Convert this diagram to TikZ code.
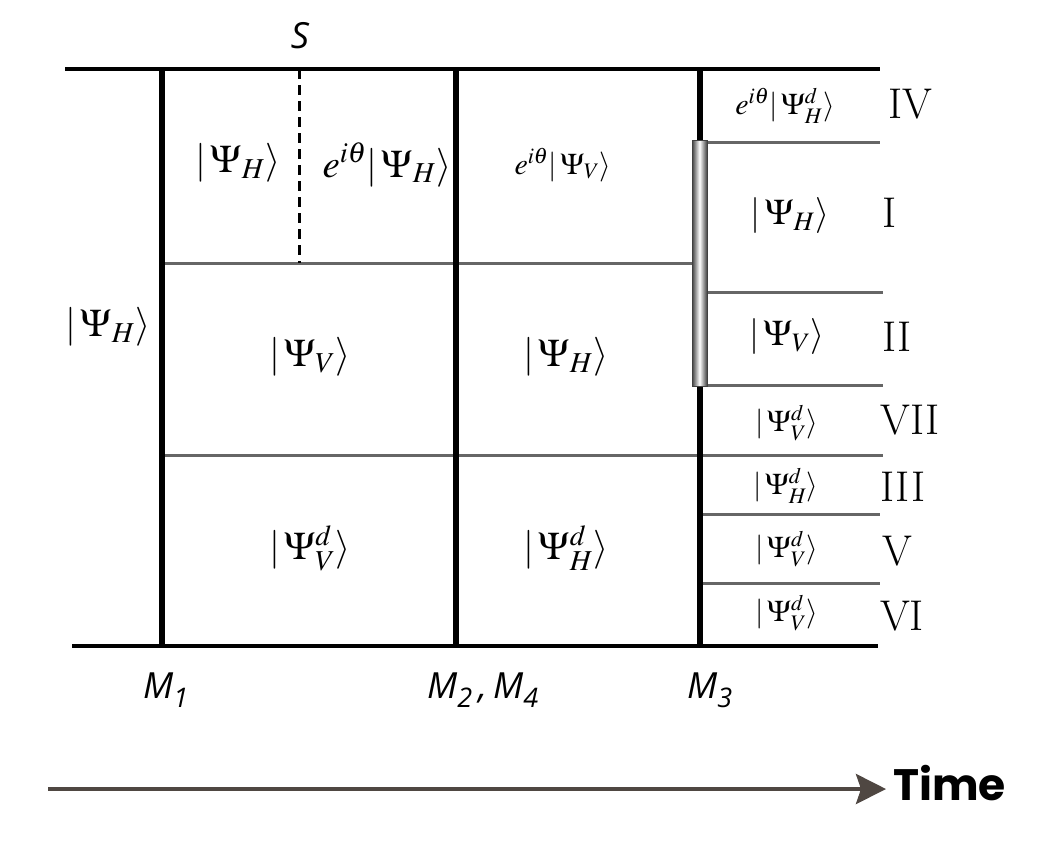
\documentclass[tikz,border=0pt]{standalone}
\usepackage{mathptmx}
\usepackage[no-math]{fontspec}
\newfontfamily\sansfnt{Open Sans}
\newfontfamily\timefnt{Poppins}
\usetikzlibrary{arrows.meta}
\definecolor{arrowc}{HTML}{4F4742}
\definecolor{linegray}{HTML}{666666}
\tikzset{
  blk/.style={line width=4pt, black},
  mline/.style={line width=6pt, black},
  gline/.style={line width=3pt, linegray},
  big/.style={font=\fontsize{39}{42}\selectfont, inner sep=0pt},
  mid/.style={font=\fontsize{36}{40}\selectfont, inner sep=0pt},
  sml/.style={font=\fontsize{30}{34}\selectfont, inner sep=0pt},
  roman/.style={font=\fontsize{43}{46}\selectfont, inner sep=0pt},
  mlab/.style={font=\sansfnt\itshape\fontsize{36}{40}\selectfont, inner sep=0pt},
}
\newcommand{\ket}[1]{|\mskip2mu #1\rangle}
\newcommand{\msub}[2]{#1\raisebox{-9pt}{\fontsize{27}{30}\selectfont #2}}
\begin{document}
\begin{tikzpicture}[x=1pt,y=-1pt]
\useasboundingbox (0,0) rectangle (1056,855);
% coordinates
\coordinate (TL) at (65,69);  \coordinate (TR) at (880,69);
\coordinate (BL) at (72,646); \coordinate (BR) at (878,646);
\coordinate (m1t) at (162,69); \coordinate (m1b) at (162,646);
\coordinate (m2t) at (456,69); \coordinate (m2b) at (456,646);
\coordinate (m3t) at (700,69); \coordinate (m3b) at (700,646);
\coordinate (st) at (299,69); \coordinate (sb) at (299,263);
% gray horizontal lines
\draw[gline] (162,263) -- (693,263);
\draw[gline] (162,455) -- (883,455);
\draw[gline] (705,142) -- (880,142);
\draw[gline] (705,292) -- (883,292);
\draw[gline] (705,385) -- (883,385);
\draw[gline] (700,514) -- (880,514);
\draw[gline] (700,583) -- (880,583);
% main lines
\draw[blk] (TL) -- (TR);
\draw[blk] (BL) -- (BR);
\draw[mline] (m1t) -- (m1b);
\draw[mline] (m2t) -- (m2b);
\draw[mline] (m3t) -- (m3b);
\draw[line width=3pt, dash pattern=on 10pt off 6pt] (st) -- (sb);
% gray bar
\shade[left color=black!75, right color=black!75, middle color=white] (692,140) rectangle (707,386);
\draw[line width=0.8pt, black!75] (692,140) rectangle (707,386);
% labels
\node[mlab] (S) at (300,36) {S};
\node[big] (a1) at (238,163) {$\ket{\Psi_H}$};
\node[big] (a2) at (387,165) {$e^{i\theta}\ket{\Psi_H}$};
\node[sml] (a3) at (563,165) {$e^{i\theta}\ket{\Psi_V}$};
\node[big] (a4) at (108,327) {$\ket{\Psi_H}$};
\node[big] (a5) at (310,357) {$\ket{\Psi_V}$};
\node[big] (a6) at (566,357) {$\ket{\Psi_H}$};
\node[big] (a7) at (310,548) {$\ket{\Psi^d_V}$};
\node[big] (a8) at (566,548) {$\ket{\Psi^d_H}$};
% right column
\node[sml] (r1) at (785,106) {$e^{i\theta}\ket{\Psi^d_H}$};
\node[roman] (n1) at (910,104) {IV};
\node[mid] (r2) at (790,216) {$\ket{\Psi_H}$};
\node[roman] (n2) at (890,213) {I};
\node[mid] (r3) at (787,337) {$\ket{\Psi_V}$};
\node[roman] (n3) at (897,337) {II};
\node[sml] (r4) at (787,423) {$\ket{\Psi^d_V}$};
\node[roman] (n4) at (910,420) {VII};
\node[sml] (r5) at (786,486) {$\ket{\Psi^d_H}$};
\node[roman] (n5) at (903,487) {III};
\node[sml] (r6) at (787,549) {$\ket{\Psi^d_V}$};
\node[roman] (n6) at (897,551) {V};
\node[sml] (r7) at (787,613) {$\ket{\Psi^d_V}$};
\node[roman] (n7) at (902,616) {VI};
% M labels
\node[mlab, anchor=west] (M1) at (143,690) {\msub{M}{1}};
\node[mlab, anchor=west] (M2) at (427,690) {\msub{M}{2}\,,\,\msub{M}{4}};
\node[mlab, anchor=west] (M3) at (687,690) {\msub{M}{3}};
% time arrow
\coordinate (ta) at (48,789);
\coordinate (tb) at (886,789);
\draw[arrowc, line width=4pt, -{Stealth[length=30pt, width=30pt, inset=5pt]}] (ta) -- (tb);
\node[font=\timefnt\bfseries\fontsize{44}{48}\selectfont, inner sep=0pt, anchor=west] (T) at (893,783) {Time};
\end{tikzpicture}
\end{document}
